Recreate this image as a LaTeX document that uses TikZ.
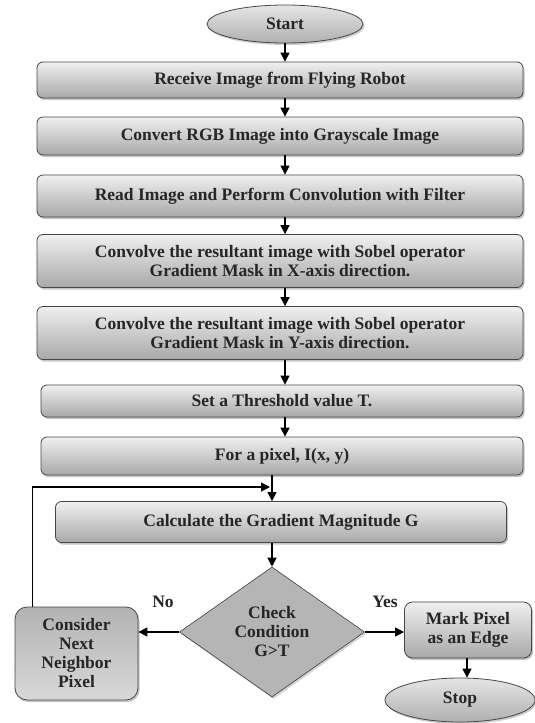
\documentclass[tikz,border=0pt]{standalone}
\usepackage{fontspec}
\setmainfont{Liberation Serif}
\usetikzlibrary{shapes.geometric,arrows.meta,shadows,calc}
\begin{document}
\begin{tikzpicture}[x=1pt,y=-1pt,
  font=\fontsize{17.5}{19}\selectfont\bfseries,
  every node/.style={text=black!85},
  shade1/.style={top color=gray!12, bottom color=gray!68, draw=gray!55!black, line width=0.8pt,
    drop shadow={shadow xshift=1.5pt, shadow yshift=-2pt, opacity=0.45}},
  procbox/.style={shade1, rectangle, rounded corners=6pt, align=center, inner sep=2pt},
  termbox/.style={ellipse, top color=gray!20, bottom color=gray!62, draw=gray!55!black, line width=0.8pt,
    drop shadow={shadow xshift=1.5pt, shadow yshift=-2pt, opacity=0.4}, inner sep=0pt},
  decbox/.style={diamond, top color=gray!58, middle color=gray!28, bottom color=gray!58,
    draw=gray!50!black, line width=0.6pt, aspect=1.42, inner sep=0pt, align=center,
    drop shadow={shadow xshift=1.5pt, shadow yshift=-2pt, opacity=0.35}},
  sidebox/.style={rectangle, rounded corners=12pt, top color=gray!60, bottom color=gray!30,
    draw=gray!55!black, line width=0.8pt, align=center, inner sep=2pt,
    drop shadow={shadow xshift=1.5pt, shadow yshift=-2pt, opacity=0.45}},
  conn/.style={line width=1.3pt, -{Triangle[width=9pt,length=9pt]}},
  lbl/.style={inner sep=0pt}
]
\useasboundingbox[fill=white] (0,0) rectangle (535,723);

\node[termbox, minimum width=156pt, minimum height=38pt] (start) at (285,24) {Start};
\node[procbox, minimum width=486pt, minimum height=36pt] (b1) at (280,80) {Receive Image from Flying Robot};
\node[procbox, minimum width=486pt, minimum height=38pt] (b2) at (280,136) {Convert RGB Image into Grayscale Image};
\node[procbox, minimum width=486pt, minimum height=42pt] (b3) at (280,196) {Read Image and Perform Convolution with Filter};
\node[procbox, minimum width=486pt, minimum height=53pt] (b4) at (280,261) {Convolve the resultant image with Sobel operator\\Gradient Mask in X-axis direction.};
\node[procbox, minimum width=486pt, minimum height=53pt] (b5) at (280,333) {Convolve the resultant image with Sobel operator\\Gradient Mask in Y-axis direction.};
\node[procbox, minimum width=482pt, minimum height=32pt] (b6) at (282,401) {Set a Threshold value T.};
\node[procbox, minimum width=482pt, minimum height=38pt] (b7) at (282,456) {For a pixel, I(x, y)};
\node[procbox, minimum width=451pt, minimum height=41pt] (b8) at (281,522) {Calculate the Gradient Magnitude G};
\node[decbox, minimum width=185pt, minimum height=130pt] (d) at (272,632) {Check\\Condition\\G>T};
\node[sidebox, minimum width=123pt, minimum height=93pt] (nb) at (76.5,653.5) {Consider\\Next\\Neighbor\\Pixel};
\node[procbox, rounded corners=8pt, minimum width=127pt, minimum height=56pt] (mk) at (468,630) {Mark Pixel\\as an Edge};
\node[termbox, minimum width=150pt, minimum height=44pt] (stop) at (460,700) {Stop};

\node[lbl] (no) at (163,602) {No};
\node[lbl] (yes) at (385,602) {Yes};

\draw[conn] (start.south) -- (b1.north -| start.south);
\draw[conn] (b1.south -| start.south) -- (b2.north -| start.south);
\draw[conn] (b2.south -| start.south) -- (b3.north -| start.south);
\draw[conn] (b3.south -| start.south) -- (b4.north -| start.south);
\draw[conn] (b4.south -| start.south) -- (b5.north -| start.south);
\draw[conn] (b5.south -| start.south) -- (b6.north -| start.south);
\draw[conn] (b6.south -| start.south) -- (b7.north -| start.south);
\draw[conn] (b7.south -| d.north) -- (b8.north -| d.north);
\draw[conn] (b8.south -| d.north) -- (d.north);
\draw[conn] (d.west) -- (nb.east |- d.west);
\draw[conn] (d.east) -- (mk.west |- d.east);
\draw[conn] (mk.south -| stop.north) ++(7,0) coordinate (ms) (ms) -- (ms |- stop.north);

\coordinate (loopend) at (270,487);
\coordinate (loopstart) at ($(nb.north west)+(18,0)$);
\draw[conn] (loopstart) -- (loopstart |- loopend) -- (loopend);
\end{tikzpicture}
\end{document}
